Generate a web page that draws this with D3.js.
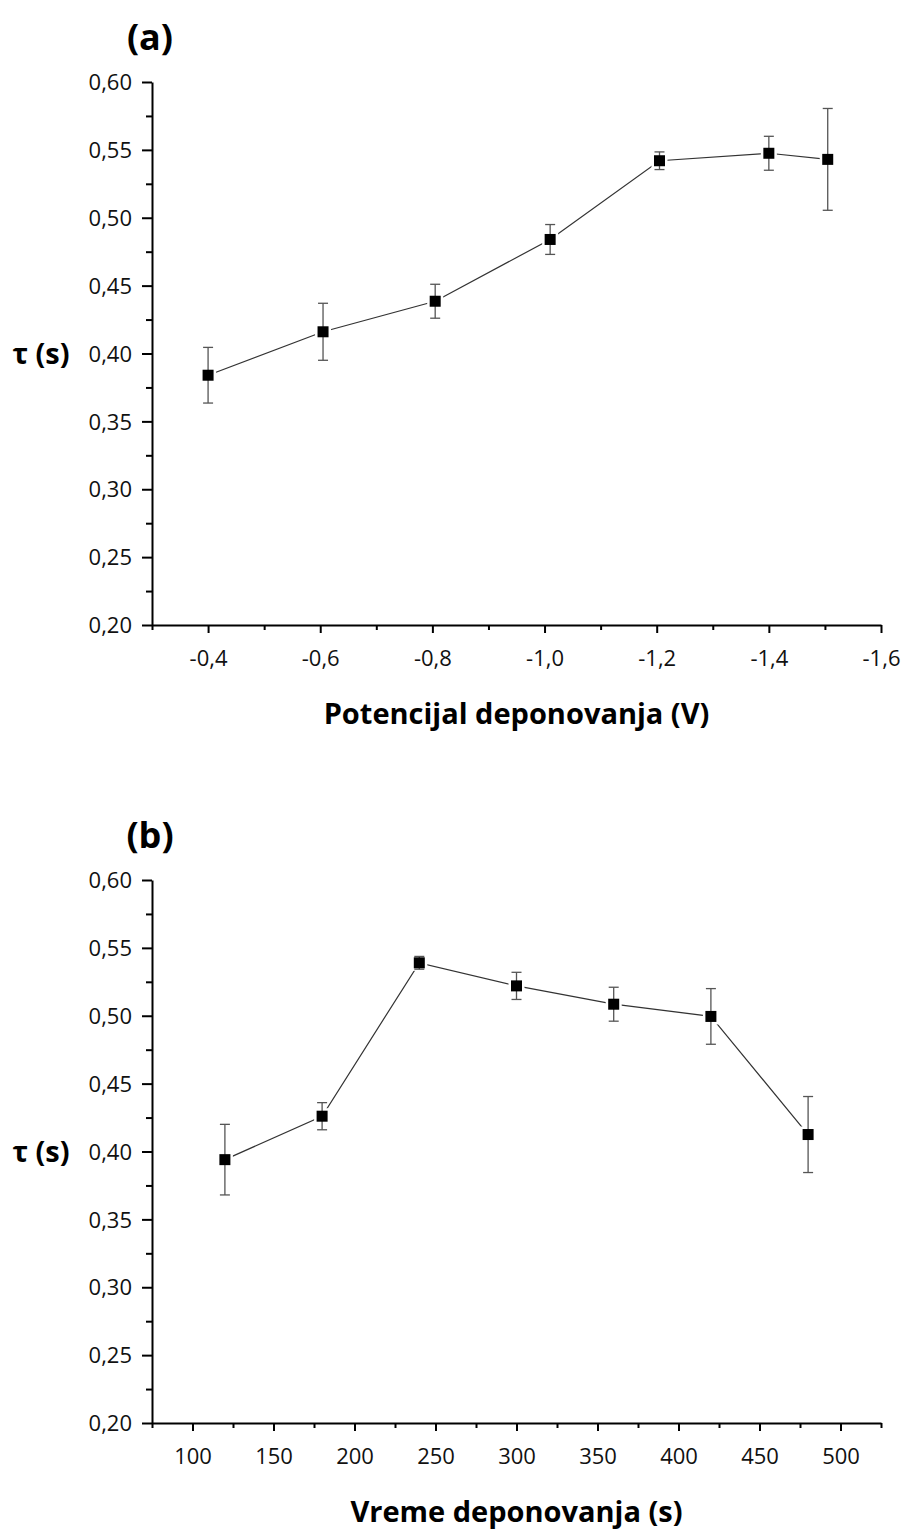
<!DOCTYPE html>
<html>
<head>
<meta charset="utf-8">
<script src="https://cdn.jsdelivr.net/npm/d3@7"></script>
<style>
  html, body { margin: 0; padding: 0; background: #fff; }
  svg { display: block; }
</style>
</head>
<body>
<svg id="chart" width="906" height="1529"></svg>
<script>
// Panel (a): lifetime vs. deposition potential
const potential = [-0.4, -0.605, -0.805, -1.01, -1.205, -1.4, -1.505];
const tauA      = [0.384, 0.416, 0.4385, 0.484, 0.542, 0.5475, 0.543];
const errA      = [0.0205, 0.021, 0.0125, 0.011, 0.0065, 0.0125, 0.0375];
const xTicksA   = [-0.4, -0.6, -0.8, -1.0, -1.2, -1.4, -1.6];
const xMinorA   = [-0.3, -0.5, -0.7, -0.9, -1.1, -1.3, -1.5];

// Panel (b): lifetime vs. deposition time
const depTime = [120, 180, 240, 300, 360, 420, 480];
const tauB    = [0.394, 0.426, 0.539, 0.522, 0.5085, 0.4995, 0.4125];
const errB    = [0.026, 0.010, 0.0047, 0.010, 0.0125, 0.0205, 0.028];
const xTicksB = [100, 150, 200, 250, 300, 350, 400, 450, 500];
const xMinorB = [75, 125, 175, 225, 275, 325, 375, 425, 475, 525];

// Shared y ticks
const yTicks = [0.20, 0.25, 0.30, 0.35, 0.40, 0.45, 0.50, 0.55, 0.60];
const yMinor = [0.225, 0.275, 0.325, 0.375, 0.425, 0.475, 0.525, 0.575];

const svg = d3.select("#chart");
svg.append("rect").attr("width", 906).attr("height", 1529).attr("fill", "#fff");

const FONT = "'Open Sans', 'Liberation Sans', sans-serif";
const comma = (d, digits) => d.toFixed(digits).replace(".", ",");

function drawPanel(p) {
  const g = svg.append("g");
  const x = d3.scaleLinear().domain(p.xDomain).range([p.left, p.right]);
  const y = d3.scaleLinear().domain([0.2, 0.6]).range([p.bottom, p.top]);

  // x axis: major + minor ticks
  const xMajor = g.append("g").attr("transform", `translate(0,${p.bottom})`)
    .call(d3.axisBottom(x).tickValues(p.xTicks).tickSize(8).tickSizeOuter(0)
      .tickFormat(d => p.xFmt(d)));
  const xMin = g.append("g").attr("transform", `translate(0,${p.bottom})`)
    .call(d3.axisBottom(x).tickValues(p.xMinor).tickSize(5).tickSizeOuter(0).tickFormat(""));
  xMin.select(".domain").remove();

  // y axis: major + minor ticks
  const yMajor = g.append("g").attr("transform", `translate(${p.left},0)`)
    .call(d3.axisLeft(y).tickValues(yTicks).tickSize(10).tickSizeOuter(0)
      .tickFormat(d => comma(d, 2)));
  const yMin = g.append("g").attr("transform", `translate(${p.left},0)`)
    .call(d3.axisLeft(y).tickValues(yMinor).tickSize(6).tickSizeOuter(0).tickFormat(""));
  yMin.select(".domain").remove();

  [xMajor, xMin, yMajor, yMin].forEach(a => {
    a.selectAll("path.domain").attr("stroke", "#000").attr("stroke-width", 2);
    a.selectAll(".tick line").attr("stroke", "#000").attr("stroke-width", 2);
  });
  xMajor.selectAll(".tick text")
    .attr("font-family", FONT).attr("font-size", 22).attr("fill", "#111")
    .attr("y", 33).attr("dy", "0.35em");
  yMajor.selectAll(".tick text")
    .attr("font-family", FONT).attr("font-size", 22).attr("fill", "#111")
    .attr("x", -20).attr("dy", "0.35em");

  const pts = p.xs.map((v, i) => ({ x: v, y: p.ys[i], e: p.es[i] }));

  // connecting line
  g.append("path").datum(pts)
    .attr("fill", "none").attr("stroke", "#333").attr("stroke-width", 1.2)
    .attr("d", d3.line().x(d => x(d.x)).y(d => y(d.y)));

  // white halo that opens a small gap between line and markers
  g.selectAll("rect.halo").data(pts).enter().append("rect")
    .attr("class", "halo")
    .attr("x", d => x(d.x) - 8).attr("y", d => y(d.y) - 8)
    .attr("width", 16).attr("height", 16).attr("fill", "#fff");

  // error bars
  const eb = g.selectAll("g.err").data(pts).enter().append("g").attr("class", "err")
    .attr("stroke", "#555").attr("stroke-width", 1.3);
  eb.append("line")
    .attr("x1", d => x(d.x)).attr("x2", d => x(d.x))
    .attr("y1", d => y(d.y + d.e)).attr("y2", d => y(d.y - d.e));
  eb.append("line")
    .attr("x1", d => x(d.x) - 5).attr("x2", d => x(d.x) + 5)
    .attr("y1", d => y(d.y + d.e)).attr("y2", d => y(d.y + d.e));
  eb.append("line")
    .attr("x1", d => x(d.x) - 5).attr("x2", d => x(d.x) + 5)
    .attr("y1", d => y(d.y - d.e)).attr("y2", d => y(d.y - d.e));

  // square markers
  g.selectAll("rect.mk").data(pts).enter().append("rect")
    .attr("class", "mk")
    .attr("x", d => x(d.x) - 5.5).attr("y", d => y(d.y) - 5.5)
    .attr("width", 11).attr("height", 11).attr("fill", "#000");

  // panel letter
  g.append("text").attr("x", 150).attr("y", p.top - 32)
    .attr("text-anchor", "middle").attr("font-family", FONT)
    .attr("font-weight", 700).attr("font-size", 36).attr("fill", "#000")
    .text(p.letter);

  // y axis title
  g.append("text").attr("x", 41).attr("y", y(0.4)).attr("dy", "0.35em")
    .attr("text-anchor", "middle").attr("font-family", FONT)
    .attr("font-weight", 700).attr("font-size", 29).attr("fill", "#000")
    .text("τ (s)");

  // x axis title
  g.append("text").attr("x", (p.left + p.right) / 2).attr("y", p.bottom + 99)
    .attr("text-anchor", "middle").attr("font-family", FONT)
    .attr("font-weight", 700).attr("font-size", 29).attr("fill", "#000")
    .text(p.xTitle);
}

drawPanel({
  letter: "(a)", xTitle: "Potencijal deponovanja (V)",
  xDomain: [-0.3, -1.6], xTicks: xTicksA, xMinor: xMinorA,
  xFmt: d => comma(d, 1),
  xs: potential, ys: tauA, es: errA,
  left: 152, right: 881, top: 82, bottom: 625
});

drawPanel({
  letter: "(b)", xTitle: "Vreme deponovanja (s)",
  xDomain: [75, 525], xTicks: xTicksB, xMinor: xMinorB,
  xFmt: d => String(d),
  xs: depTime, ys: tauB, es: errB,
  left: 152, right: 881, top: 880, bottom: 1423
});
</script>
</body>
</html>
